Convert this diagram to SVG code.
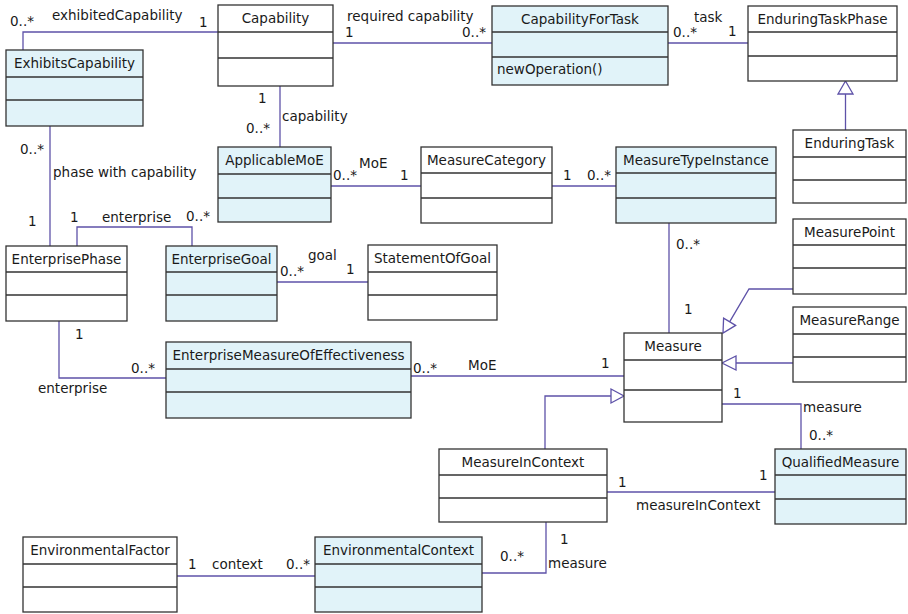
<svg xmlns="http://www.w3.org/2000/svg" width="908" height="614" viewBox="0 0 908 614">
  <style>
    .box { stroke: #333; stroke-width: 1.3; }
    .plain { fill: #ffffff; }
    .tint { fill: #e1f3f9; }
    .div { stroke: #333; stroke-width: 1.3; fill: none; }
    text { font-family: "DejaVu Sans", "Liberation Sans", sans-serif; font-size: 13.5px; fill: #1a1a1a; }
    .title { text-anchor: middle; }
    .edge { fill: none; stroke: #5e52a8; stroke-width: 1.3; }
    .gen { fill: #ffffff; stroke: #5e52a8; stroke-width: 1.3; }
  </style>

  <!-- connectors -->
  <g id="connectors">
    <path class="edge" d="M23,50 V32 H218"/>
    <path class="edge" d="M333,43 H492"/>
    <path class="edge" d="M668,43 H748"/>
    <path class="edge" d="M280,86 V147"/>
    <path class="edge" d="M845.5,130 V94"/>
    <polygon class="gen" points="838,94 853,94 845.5,81"/>
    <path class="edge" d="M50,126 V246"/>
    <path class="edge" d="M77,246 V227 H192 V246"/>
    <path class="edge" d="M277,282 H368"/>
    <path class="edge" d="M331,186 H421"/>
    <path class="edge" d="M552,186 H616"/>
    <path class="edge" d="M669,223 V333"/>
    <path class="edge" d="M793,289 H749 L729.6,321.8"/>
    <polygon class="gen" points="735.6,325.4 723.6,318.2 723,333"/>
    <path class="edge" d="M793,363 H736"/>
    <polygon class="gen" points="736,356 736,370 722,363"/>
    <path class="edge" d="M59,321 V378 H166"/>
    <path class="edge" d="M411,376 H624"/>
    <path class="edge" d="M545,449 V396 H611"/>
    <polygon class="gen" points="611,389 611,403 624,396"/>
    <path class="edge" d="M722,404 H801 V449"/>
    <path class="edge" d="M607,492 H775"/>
    <path class="edge" d="M177,576 H315"/>
    <path class="edge" d="M482,573 H546 V522"/>

    <!-- association labels -->
    <text x="10" y="26">0..*</text>
    <text x="52" y="20">exhibitedCapability</text>
    <text x="199" y="27">1</text>

    <text x="345" y="37">1</text>
    <text x="347" y="21">required capability</text>
    <text x="462" y="37">0..*</text>

    <text x="673" y="37">0..*</text>
    <text x="694" y="22">task</text>
    <text x="728" y="36">1</text>

    <text x="258" y="103">1</text>
    <text x="246" y="133">0..*</text>
    <text x="282" y="121">capability</text>

    <text x="20" y="154">0..*</text>
    <text x="53" y="177">phase with capability</text>
    <text x="28" y="226">1</text>

    <text x="70" y="222">1</text>
    <text x="102" y="222">enterprise</text>
    <text x="186" y="221">0..*</text>

    <text x="280" y="276">0..*</text>
    <text x="308" y="260">goal</text>
    <text x="346" y="274">1</text>

    <text x="333" y="180">0..*</text>
    <text x="359" y="168">MoE</text>
    <text x="400" y="180">1</text>

    <text x="563" y="180">1</text>
    <text x="587" y="180">0..*</text>

    <text x="676" y="249">0..*</text>
    <text x="684" y="314">1</text>

    <text x="75" y="339">1</text>
    <text x="131" y="373">0..*</text>
    <text x="38" y="393">enterprise</text>

    <text x="413" y="373">0..*</text>
    <text x="468" y="370">MoE</text>
    <text x="601" y="368">1</text>

    <text x="733" y="398">1</text>
    <text x="803" y="412">measure</text>
    <text x="809" y="440">0..*</text>

    <text x="618" y="487">1</text>
    <text x="759" y="480">1</text>
    <text x="636" y="510">measureInContext</text>

    <text x="188" y="569">1</text>
    <text x="212" y="569">context</text>
    <text x="286" y="569">0..*</text>

    <text x="500" y="561">0..*</text>
    <text x="560" y="544">1</text>
    <text x="548" y="568">measure</text>
  </g>

  <!-- classes -->
  <g id="ExhibitsCapability">
    <rect class="box tint" x="6" y="50" width="137" height="76"/>
    <path class="div" d="M6,77 H143 M6,100 H143"/>
    <text class="title" x="74.5" y="68">ExhibitsCapability</text>
  </g>

  <g id="Capability">
    <rect class="box plain" x="218" y="5" width="115" height="81"/>
    <path class="div" d="M218,32 H333 M218,58 H333"/>
    <text class="title" x="275.5" y="23">Capability</text>
  </g>

  <g id="CapabilityForTask">
    <rect class="box tint" x="492" y="6" width="176" height="79"/>
    <path class="div" d="M492,32 H668 M492,57 H668"/>
    <text class="title" x="580" y="24">CapabilityForTask</text>
    <text x="497" y="74">newOperation()</text>
  </g>

  <g id="EnduringTaskPhase">
    <rect class="box plain" x="748" y="6" width="149" height="75"/>
    <path class="div" d="M748,32 H897 M748,56 H897"/>
    <text class="title" x="822.5" y="24">EnduringTaskPhase</text>
  </g>

  <g id="EnduringTask">
    <rect class="box plain" x="793" y="130" width="113" height="73"/>
    <path class="div" d="M793,157 H906 M793,180 H906"/>
    <text class="title" x="849.5" y="148">EnduringTask</text>
  </g>

  <g id="ApplicableMoE">
    <rect class="box tint" x="218" y="147" width="113" height="75"/>
    <path class="div" d="M218,174 H331 M218,198 H331"/>
    <text class="title" x="274.5" y="165">ApplicableMoE</text>
  </g>

  <g id="MeasureCategory">
    <rect class="box plain" x="421" y="147" width="131" height="76"/>
    <path class="div" d="M421,173 H552 M421,198 H552"/>
    <text class="title" x="486.5" y="165">MeasureCategory</text>
  </g>

  <g id="MeasureTypeInstance">
    <rect class="box tint" x="616" y="147" width="160" height="76"/>
    <path class="div" d="M616,173 H776 M616,198 H776"/>
    <text class="title" x="696" y="165">MeasureTypeInstance</text>
  </g>

  <g id="EnterprisePhase">
    <rect class="box plain" x="6" y="246" width="121" height="75"/>
    <path class="div" d="M6,272 H127 M6,295 H127"/>
    <text class="title" x="66.5" y="264">EnterprisePhase</text>
  </g>

  <g id="EnterpriseGoal">
    <rect class="box tint" x="166" y="246" width="111" height="75"/>
    <path class="div" d="M166,272 H277 M166,295 H277"/>
    <text class="title" x="221.5" y="264">EnterpriseGoal</text>
  </g>

  <g id="StatementOfGoal">
    <rect class="box plain" x="368" y="245" width="129" height="75"/>
    <path class="div" d="M368,272 H497 M368,295 H497"/>
    <text class="title" x="432.5" y="263">StatementOfGoal</text>
  </g>

  <g id="MeasurePoint">
    <rect class="box plain" x="793" y="219" width="113" height="75"/>
    <path class="div" d="M793,245 H906 M793,268 H906"/>
    <text class="title" x="849.5" y="237">MeasurePoint</text>
  </g>

  <g id="MeasureRange">
    <rect class="box plain" x="793" y="307" width="113" height="75"/>
    <path class="div" d="M793,334 H906 M793,357 H906"/>
    <text class="title" x="849.5" y="325">MeasureRange</text>
  </g>

  <g id="Measure">
    <rect class="box plain" x="624" y="333" width="98" height="89"/>
    <path class="div" d="M624,360 H722 M624,390 H722"/>
    <text class="title" x="673" y="351">Measure</text>
  </g>

  <g id="EnterpriseMeasureOfEffectiveness">
    <rect class="box tint" x="166" y="342" width="245" height="76"/>
    <path class="div" d="M166,369 H411 M166,392 H411"/>
    <text class="title" x="288.5" y="360">EnterpriseMeasureOfEffectiveness</text>
  </g>

  <g id="MeasureInContext">
    <rect class="box plain" x="439" y="449" width="168" height="73"/>
    <path class="div" d="M439,475 H607 M439,498 H607"/>
    <text class="title" x="523" y="467">MeasureInContext</text>
  </g>

  <g id="QualifiedMeasure">
    <rect class="box tint" x="775" y="449" width="131" height="75"/>
    <path class="div" d="M775,475 H906 M775,499 H906"/>
    <text class="title" x="840.5" y="467">QualifiedMeasure</text>
  </g>

  <g id="EnvironmentalFactor">
    <rect class="box plain" x="23" y="537" width="154" height="75"/>
    <path class="div" d="M23,564 H177 M23,587 H177"/>
    <text class="title" x="100" y="555">EnvironmentalFactor</text>
  </g>

  <g id="EnvironmentalContext">
    <rect class="box tint" x="315" y="537" width="167" height="75"/>
    <path class="div" d="M315,564 H482 M315,587 H482"/>
    <text class="title" x="398.5" y="555">EnvironmentalContext</text>
  </g>
</svg>
